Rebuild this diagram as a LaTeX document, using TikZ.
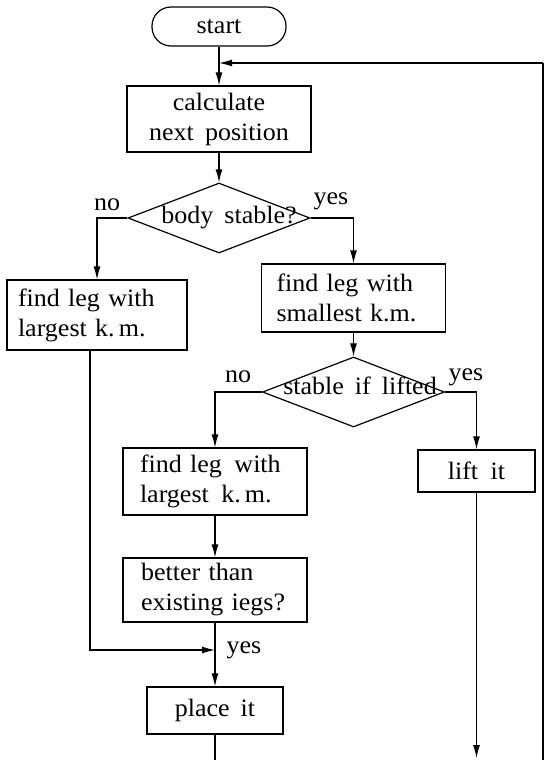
\documentclass[tikz,border=0pt]{standalone}
\usepackage{fontspec}
\setmainfont{Liberation Serif}[FakeStretch=1.04, WordSpace=1.7]
\usetikzlibrary{arrows.meta,shapes.geometric}
\begin{document}
\begin{tikzpicture}[x=1pt,y=-1pt,
  line width=1.2pt,
  every node/.style={font=\fontsize{25}{30}\selectfont},
  box/.style={draw, rectangle, inner sep=0pt, align=center},
  lbox/.style={draw, rectangle, inner ysep=0pt, inner xsep=#1, align=left},
  dia/.style={draw, diamond, inner sep=0pt, minimum width=182pt, minimum height=70pt},
  lab/.style={inner sep=0pt},
  arr/.style={-{Latex[length=13pt,width=7pt]}},
]
\useasboundingbox (0,0) rectangle (545,760);

\node[box, rounded corners=19pt, minimum width=134pt, minimum height=39pt] (start) at (219,26.5) {start};
\node[box, minimum width=184pt, minimum height=66pt] (calc) at (219,119) {calculate\\next position};
\node[dia] (d1) at (219,218) {};
\node[lab] (d1t) at (229,218) {body stable?};
\node[lbox=11pt, text width=158pt, minimum height=70pt] (big1) at (97,315) {find leg with\\largest k.\,m.};
\node[lbox=15pt, text width=154pt, minimum height=68pt] (small) at (353.5,298) {find leg with\\smallest k.m.};
\node[dia] (d2) at (353.5,392) {};
\node[lab] (d2t) at (360,386) {stable if lifted};
\node[lbox=17pt, text width=150pt, minimum height=67pt] (big2) at (215,481.5) {find leg\enspace with\\largest\enspace k.\,m.};
\node[box, minimum width=117pt, minimum height=42pt] (lift) at (476.5,471) {lift\enspace it};
\node[lbox=18pt, text width=148pt, minimum height=64pt] (better) at (215,590) {better than\\existing iegs?};
\node[box, minimum width=136pt, minimum height=47pt] (place) at (215,710.5) {place it};

\node[lab] (no1) at (107,205) {no};
\node[lab] (yes1) at (331,201) {yes};
\node[lab] (no2) at (238,377) {no};
\node[lab] (yes2) at (466,377) {yes};
\node[lab] (yes3) at (244,650) {yes};

\coordinate (fb) at (543,63);
\coordinate (bot) at (543,760);
\coordinate (merge) at (215,650);
\coordinate (c1) at (90,650);
\coordinate (liftend) at (476.5,758);
\coordinate (placeend) at (215,760);

\draw[arr] (start) -- (calc);
\draw (bot) -- (fb);
\draw[arr] (fb) -- (start.south |- fb);
\draw[arr] (calc) -- (d1);
\draw[arr] (d1.west) -| (big1.north);
\draw[arr] (d1.east) -| (small.north);
\draw[arr] (small) -- (d2);
\draw[arr] (d2.west) -| (big2.north);
\draw[arr] (d2.east) -| (lift.north);
\draw[arr] (big2) -- (better);
\draw[arr] (better) -- (place);
\draw (place.south) -- (placeend);
\draw[arr] (big1.south -| c1) -- (c1) -- (merge);
\draw[arr] (lift) -- (liftend);
\end{tikzpicture}
\end{document}
